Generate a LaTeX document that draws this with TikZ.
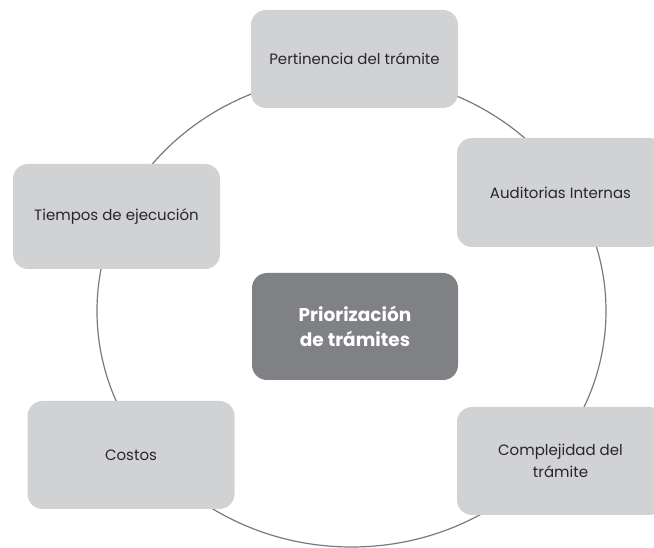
\documentclass[tikz,border=0pt]{standalone}
\usepackage{fontspec}
\setmainfont{Poppins}
\usetikzlibrary{positioning}
\tikzset{>=latex}
\definecolor{boxgray}{RGB}{209,210,212}
\definecolor{centregray}{RGB}{128,129,132}
\definecolor{linegray}{RGB}{120,121,124}
\definecolor{textgray}{RGB}{40,38,40}
\tikzset{
  tema/.style={fill=boxgray, rounded corners=15pt, minimum width=207pt,
    minimum height=107pt, align=center, text=textgray,
    font=\fontsize{15}{22}\selectfont},
  centro/.style={tema, fill=centregray, minimum width=206pt, text=white,
    font=\fontsize{18.5}{25}\selectfont\bfseries}
}

\begin{document}
\begin{tikzpicture}[x=1pt,y=1pt]
    \useasboundingbox (0,0) rectangle (654,548);

    % ring behind the boxes
    \draw[linegray, line width=1.2pt] (351.5,237) ellipse (254.5 and 236);

    \node[centro] (prior) at (355,221.5) {Priorización\\de trámites};

    \node[tema, minimum height=98pt] (pert) at (354.5,489) {Pertinencia del trámite};
    \node[tema, minimum height=109pt] (audit) at (560.5,355.5) {Auditorias Internas};
    \node[tema, minimum height=108pt] (compl) at (560.5,87) {Complejidad del\\trámite};
    \node[tema, minimum height=105pt] (tiempo) at (116.5,331.5) {Tiempos de ejecución};
    \node[tema, minimum height=108pt] (costo) at (131,93) {Costos};
\end{tikzpicture}
\end{document}
